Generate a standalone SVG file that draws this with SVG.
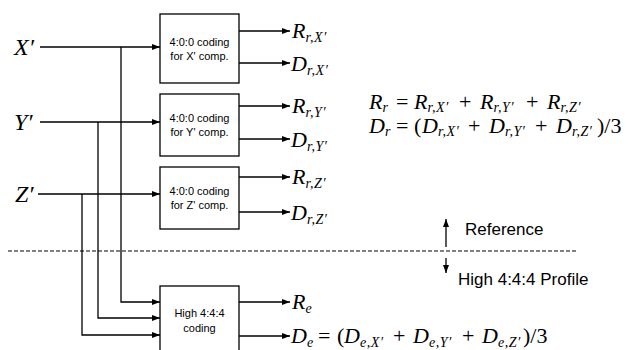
<svg xmlns="http://www.w3.org/2000/svg" width="644" height="350" viewBox="0 0 644 350">
<style>
.box{fill:#fff;stroke:#000;stroke-width:1.3}
.ln{fill:none;stroke:#000;stroke-width:1.3}
.bt{font-family:"Liberation Sans",Arial,sans-serif;font-size:11px;text-anchor:middle;fill:#000}
.lb{font-family:"Liberation Sans",Arial,sans-serif;font-size:17px;fill:#000}
.m{font-family:"Liberation Serif","Times New Roman",serif;font-style:italic;font-size:22px;fill:#000}
.in{font-family:"Liberation Serif","Times New Roman",serif;font-style:italic;font-size:24px;fill:#000}
.s{font-size:14px;letter-spacing:0.6px}
.op{font-style:normal;letter-spacing:0}
</style>
<defs>
<marker id="ah" markerWidth="8" markerHeight="6" refX="8" refY="3" orient="auto" markerUnits="userSpaceOnUse"><path d="M0,0 L8,3 L0,6 z" fill="#000"/></marker>
</defs>
<rect width="644" height="350" fill="#fff"/>
<g id="connectors">
<path class="ln" d="M40,47 H160" marker-end="url(#ah)"/>
<path class="ln" d="M40,122 H160" marker-end="url(#ah)"/>
<path class="ln" d="M38,194 H160" marker-end="url(#ah)"/>
<path class="ln" d="M121,47 V302 H160" marker-end="url(#ah)"/>
<path class="ln" d="M98,122 V318 H160" marker-end="url(#ah)"/>
<path class="ln" d="M82,194 V335 H160" marker-end="url(#ah)"/>
<path class="ln" d="M239,31 H290" marker-end="url(#ah)"/>
<path class="ln" d="M239,63 H290" marker-end="url(#ah)"/>
<path class="ln" d="M239,106 H290" marker-end="url(#ah)"/>
<path class="ln" d="M239,139 H290" marker-end="url(#ah)"/>
<path class="ln" d="M239,177 H290" marker-end="url(#ah)"/>
<path class="ln" d="M239,212 H290" marker-end="url(#ah)"/>
<path class="ln" d="M239,302 H290" marker-end="url(#ah)"/>
<path class="ln" d="M239,336 H290" marker-end="url(#ah)"/>
<path class="ln" d="M446,247 V219" marker-end="url(#ah)"/>
<path class="ln" d="M446,258 V273" marker-end="url(#ah)"/>
<path d="M8,251 H578" stroke="#000" stroke-width="1" stroke-dasharray="4 2"/>
</g>
<g id="inputs">
<text class="in" x="14" y="55">X′</text>
<text class="in" x="14" y="130">Y′</text>
<text class="in" x="15" y="202">Z′</text>
</g>
<g id="coderX"><rect class="box" x="160" y="14" width="79" height="69"/><text class="bt" x="199.5" y="46">4:0:0 coding</text><text class="bt" x="199.5" y="60">for X' comp.</text></g>
<g id="coderY"><rect class="box" x="160" y="94" width="79" height="62"/><text class="bt" x="199.5" y="122">4:0:0 coding</text><text class="bt" x="199.5" y="136">for Y' comp.</text></g>
<g id="coderZ"><rect class="box" x="160" y="167" width="79" height="62"/><text class="bt" x="199.5" y="195">4:0:0 coding</text><text class="bt" x="199.5" y="209">for Z' comp.</text></g>
<g id="coder444"><rect class="box" x="160" y="286" width="79" height="70"/><text class="bt" x="199.5" y="317">High 4:4:4</text><text class="bt" x="199.5" y="332">coding</text></g>
<g id="outputs">
<text class="m" x="292" y="38">R<tspan class="s" y="42">r,X′</tspan></text>
<text class="m" x="291" y="71">D<tspan class="s" y="75">r,X′</tspan></text>
<text class="m" x="292" y="113">R<tspan class="s" y="117">r,Y′</tspan></text>
<text class="m" x="291" y="147">D<tspan class="s" y="151">r,Y′</tspan></text>
<text class="m" x="292" y="184">R<tspan class="s" y="188">r,Z′</tspan></text>
<text class="m" x="291" y="220">D<tspan class="s" y="224">r,Z′</tspan></text>
<text class="m" x="292" y="309">R<tspan class="s" y="313">e</tspan></text>
<text class="m" y="343"><tspan x="291">D</tspan><tspan class="s" y="347">e</tspan><tspan class="op" x="318" y="343">=</tspan><tspan class="op" x="337">(</tspan><tspan x="344">D</tspan><tspan class="s" y="347">e,X′</tspan><tspan class="op" x="393" y="343">+</tspan><tspan x="413">D</tspan><tspan class="s" y="347">e,Y′</tspan><tspan class="op" x="462" y="343">+</tspan><tspan x="482">D</tspan><tspan class="s" y="347">e,Z′</tspan><tspan class="op" x="523" y="343">)/3</tspan></text>
</g>
<g id="equations">
<text class="m" y="109"><tspan x="369">R</tspan><tspan class="s" y="112">r</tspan><tspan class="op" x="396" y="109">=</tspan><tspan x="414">R</tspan><tspan class="s" y="112">r,X′</tspan><tspan class="op" x="459" y="109">+</tspan><tspan x="480">R</tspan><tspan class="s" y="112">r,Y′</tspan><tspan class="op" x="526" y="109">+</tspan><tspan x="547">R</tspan><tspan class="s" y="112">r,Z′</tspan></text>
<text class="m" y="133"><tspan x="369">D</tspan><tspan class="s" y="136">r</tspan><tspan class="op" x="396" y="133">=</tspan><tspan class="op" x="414">(</tspan><tspan x="422">D</tspan><tspan class="s" y="136">r,X′</tspan><tspan class="op" x="468" y="133">+</tspan><tspan x="489">D</tspan><tspan class="s" y="136">r,Y′</tspan><tspan class="op" x="535" y="133">+</tspan><tspan x="556">D</tspan><tspan class="s" y="136">r,Z′</tspan><tspan class="op" x="597" y="133">)/3</tspan></text>
</g>
<g id="legend">
<text class="lb" x="465" y="235">Reference</text>
<text class="lb" x="458" y="285">High 4:4:4 Profile</text>
</g>
</svg>
